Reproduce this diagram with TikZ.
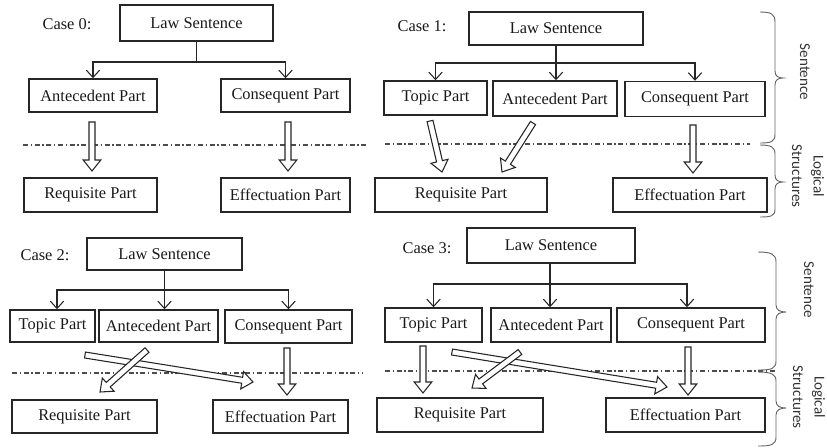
\documentclass[tikz,border=0pt]{standalone}
\usepackage{fontspec}
\setmainfont{Liberation Serif}
\newfontfamily\sidefont{Carlito}
\usetikzlibrary{calc,arrows.meta}
\newcommand\hollowarr[2]{%
  \path ($(#2)!8.25pt!(#1)$) coordinate (hh);
  \draw[hollow] ($(#1)!2.25pt!90:(#2)$) -- ($(hh)!2.25pt!90:(#2)$) -- ($(hh)!6.6pt!90:(#2)$) -- (#2)
    -- ($(hh)!6.6pt!-90:(#2)$) -- ($(hh)!2.25pt!-90:(#2)$) -- ($(#1)!2.25pt!-90:(#2)$) -- cycle;}
\begin{document}
\begin{tikzpicture}[x=0.75pt,y=-0.75pt,
  box/.style={draw=black!85,line width=1.1pt,inner sep=0pt,align=center,
    font=\fontsize{12.3pt}{14pt}\selectfont,text=black!90},
  lbl/.style={inner sep=0pt,font=\fontsize{12.3pt}{14pt}\selectfont,text=black!90},
  conn/.style={draw=black!85,line width=0.8pt,-{Straight Barb[length=5.5pt,width=10pt]}},
  plain/.style={draw=black!85,line width=0.8pt},
  sep/.style={draw=black!70,line width=0.8pt,dash pattern=on 3.75pt off 2pt on 1pt off 2pt},
  hollow/.style={draw=black!85,line width=0.8pt,fill=white,line join=miter},
  brc/.style={draw=black!60,line width=0.7pt},
  side/.style={inner sep=0pt,rotate=-90,align=center,text=black!80,
    font=\sidefont\fontsize{11.3pt}{16pt}\selectfont}]
\useasboundingbox (0,0) rectangle (827,447);

% ---------------- Case 0 ----------------
\node[lbl] (c0) at (67,24) {Case 0:};
\node[box,minimum width=153*0.75pt,minimum height=36*0.75pt] (law0) at (196.5,23) {Law Sentence};
\node[box,minimum width=128*0.75pt,minimum height=33*0.75pt] (ant0) at (93,95.5) {Antecedent Part};
\node[box,minimum width=129*0.75pt,minimum height=33*0.75pt] (con0) at (285.5,95.5) {Consequent Part};
\node[box,minimum width=133*0.75pt,minimum height=34*0.75pt] (req0) at (90.5,195) {Requisite Part};
\node[box,minimum width=129*0.75pt,minimum height=34*0.75pt] (eff0) at (285.5,195) {Effectuation Part};
\coordinate (j0) at (196.5,62);
\draw[plain] (law0.south) -- (j0);
\draw[conn] (j0) -| (ant0);
\draw[conn] (j0) -| (con0);
\coordinate (s0a) at (23,145); \coordinate (s0b) at (367,145);
\draw[sep] (s0a) -- (s0b);
\coordinate (h0a) at (92,122); \coordinate (h0b) at (92,171);
\coordinate (h0c) at (288,122); \coordinate (h0d) at (288,171);
\hollowarr{h0a}{h0b}
\hollowarr{h0c}{h0d}

% ---------------- Case 1 ----------------
\node[lbl] (c1) at (422,26) {Case 1:};
\node[box,minimum width=174*0.75pt,minimum height=33*0.75pt] (law1) at (556,28.5) {Law Sentence};
\node[box,minimum width=103*0.75pt,minimum height=34*0.75pt] (top1) at (435.5,98) {Topic Part};
\node[box,minimum width=124*0.75pt,minimum height=35*0.75pt] (ant1) at (555,98.5) {Antecedent Part};
\node[box,minimum width=140*0.75pt,minimum height=35*0.75pt] (con1) at (695,99) {Consequent Part};
\node[box,minimum width=172*0.75pt,minimum height=34*0.75pt] (req1) at (461,195) {Requisite Part};
\node[box,minimum width=154*0.75pt,minimum height=34*0.75pt] (eff1) at (690,195) {Effectuation Part};
\coordinate (j1) at (556,63);
\draw[conn] (law1.south) -- (law1.south |- ant1.north);
\draw[conn] (j1) -| (top1);
\draw[conn] (j1) -| (con1);
\coordinate (s1a) at (385,144); \coordinate (s1b) at (750,144);
\draw[sep] (s1a) -- (s1b);
\coordinate (h1a) at (430,121); \coordinate (h1b) at (442,172);
\coordinate (h1c) at (533,123); \coordinate (h1d) at (502,172);
\coordinate (h1e) at (693,125); \coordinate (h1f) at (693,173);
\hollowarr{h1a}{h1b}
\hollowarr{h1c}{h1d}
\hollowarr{h1e}{h1f}
\draw[brc] (760,12) .. controls (771,12) and (775,14) .. (775,22) -- (775,71)
  .. controls (775,76) and (778,78) .. (783,78) .. controls (778,78) and (775,80) .. (775,85)
  -- (775,134) .. controls (775,142) and (771,143) .. (760,143);
\draw[brc] (760,145) .. controls (771,145) and (775,147) .. (775,154) -- (775,175)
  .. controls (775,180) and (778,182) .. (783,182) .. controls (778,182) and (775,184) .. (775,189)
  -- (775,209) .. controls (775,216) and (771,217) .. (760,217);
\node[side] (t1a) at (805,72) {Sentence};
\node[side] (t1b) at (808,176) {Logical\\Structures};

% ---------------- Case 2 ----------------
\node[lbl] (c2) at (45,255) {Case 2:};
\node[box,minimum width=155*0.75pt,minimum height=32*0.75pt] (law2) at (164.5,254) {Law Sentence};
\node[box,minimum width=85*0.75pt,minimum height=32*0.75pt] (top2) at (52.5,326) {Topic Part};
\node[box,minimum width=119*0.75pt,minimum height=32*0.75pt] (ant2) at (158.5,326) {Antecedent Part};
\node[box,minimum width=127*0.75pt,minimum height=33*0.75pt] (con2) at (288.5,326.5) {Consequent Part};
\node[box,minimum width=145*0.75pt,minimum height=33*0.75pt] (req2) at (84.5,416.5) {Requisite Part};
\node[box,minimum width=135*0.75pt,minimum height=33*0.75pt] (eff2) at (280.5,416.5) {Effectuation Part};
\coordinate (j2) at (164,290);
\draw[conn] (law2.south) -- (law2.south |- ant2.north);
\draw[conn] (j2) -| ($(top2.north)+(4.5,0)$);
\draw[conn] (j2) -| (con2);
\coordinate (s2a) at (12,373); \coordinate (s2b) at (363,373);
\draw[sep] (s2a) -- (s2b);
\coordinate (h2a) at (85,355); \coordinate (h2b) at (253,382);
\coordinate (h2c) at (147,350); \coordinate (h2d) at (100,392);
\coordinate (h2e) at (287,348); \coordinate (h2f) at (287,395);
\hollowarr{h2a}{h2b}
\hollowarr{h2c}{h2d}
\hollowarr{h2e}{h2f}

% ---------------- Case 3 ----------------
\node[lbl] (c3) at (427,248) {Case 3:};
\node[box,minimum width=168*0.75pt,minimum height=35*0.75pt] (law3) at (551,245.5) {Law Sentence};
\node[box,minimum width=97*0.75pt,minimum height=34*0.75pt] (top3) at (433.5,325) {Topic Part};
\node[box,minimum width=120*0.75pt,minimum height=34*0.75pt] (ant3) at (551,325) {Antecedent Part};
\node[box,minimum width=148*0.75pt,minimum height=34*0.75pt] (con3) at (691,325) {Consequent Part};
\node[box,minimum width=166*0.75pt,minimum height=34*0.75pt] (req3) at (460,415) {Requisite Part};
\node[box,minimum width=159*0.75pt,minimum height=34*0.75pt] (eff3) at (685.5,415) {Effectuation Part};
\coordinate (j3) at (550,284);
\draw[conn] (law3.south -| j3) -- (j3 |- ant3.north);
\draw[conn] (j3) -| (top3);
\draw[conn] (j3) -| ($(con3.north)+(-4,0)$);
\coordinate (s3a) at (385,371); \coordinate (s3b) at (775,371);
\draw[sep] (s3a) -- (s3b);
\coordinate (h3a) at (423,346); \coordinate (h3b) at (423,393);
\coordinate (h3c) at (452,352); \coordinate (h3d) at (667,387);
\coordinate (h3e) at (520,352); \coordinate (h3f) at (472,388);
\coordinate (h3g) at (688,347); \coordinate (h3h) at (688,395);
\hollowarr{h3a}{h3b}
\hollowarr{h3c}{h3d}
\hollowarr{h3e}{h3f}
\hollowarr{h3g}{h3h}
\draw[brc] (758,252) .. controls (771,252) and (776,254) .. (776,262) -- (776,305)
  .. controls (776,310) and (780,312) .. (786,312) .. controls (780,312) and (776,314) .. (776,319)
  -- (776,361) .. controls (776,369) and (771,370) .. (758,370);
\draw[brc] (758,372) .. controls (771,372) and (776,374) .. (776,381) -- (776,401)
  .. controls (776,406) and (780,408) .. (786,408) .. controls (780,408) and (776,410) .. (776,415)
  -- (776,437) .. controls (776,445) and (771,446) .. (758,446);
\node[side] (t3a) at (809,290) {Sentence};
\node[side] (t3b) at (809,397) {Logical\\Structures};
\end{tikzpicture}
\end{document}
